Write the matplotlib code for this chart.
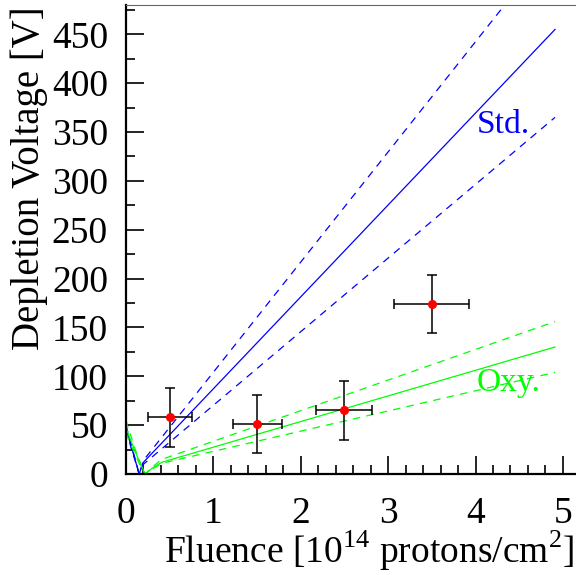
import numpy as np
import matplotlib
matplotlib.use("Agg")
import matplotlib.pyplot as plt
from matplotlib.ticker import MultipleLocator

plt.rcParams['font.family'] = ['Liberation Serif', 'DejaVu Serif']
plt.rcParams['mathtext.fontset'] = 'custom'
plt.rcParams['mathtext.rm'] = 'Liberation Serif'

# measured points
fluence = [0.5, 1.5, 2.5, 3.5]
fluence_err = [0.25, 0.28, 0.32, 0.43]
vdep = [58, 51, 65, 174]
vdep_err = [30, 30, 30, 30]

# standard silicon prediction (central, upper, lower)
fl_std = [0, 0.03, 0.06, 0.10, 0.15, 0.20, 4.91]
v_std = [48, 38, 28, 16, 0, 12, 455]
v_std_hi = [50, 40, 30, 17, 0, 14, 545]
v_std_lo = [46, 36, 26, 15, 0, 10, 365]

# oxygenated silicon prediction
fl_oxy = [0, 0.03, 0.07, 0.11, 0.16, 0.22, 0.30, 0.41, 4.91]
v_oxy = [47, 40, 31, 22, 11, 0, 6, 12, 130]
v_oxy_hi = [55, 46, 35, 24, 12, 0, 7, 15, 156]
v_oxy_lo = [42, 35, 27, 19, 9, 0, 5, 11, 104]

blue, green = (0, 0, 1), (0, 1, 0)

fig = plt.figure(figsize=(5.76, 5.75), dpi=100)
ax = fig.add_axes([126/576, 1 - 474/575, 450/576, 469/575])

ax.plot(fl_std, v_std, color=blue, lw=0.9)
ax.plot(fl_std, v_std_hi, color=blue, lw=0.9, ls=(0, (6, 5)))
ax.plot(fl_std, v_std_lo, color=blue, lw=0.9, ls=(0, (6, 5)))
ax.plot(fl_oxy, v_oxy, color=green, lw=0.9)
ax.plot(fl_oxy, v_oxy_hi, color=green, lw=0.9, ls=(0, (6, 5)))
ax.plot(fl_oxy, v_oxy_lo, color=green, lw=0.9, ls=(0, (6, 5)))

ax.errorbar(fluence, vdep, xerr=fluence_err, yerr=vdep_err, fmt='o',
            color='red', ms=5.5, ecolor='black', elinewidth=1.1,
            capsize=3.5, capthick=1.1, zorder=5)

ax.text(4.01, 349, "Std.", color=blue, fontsize=24)
ax.text(4.01, 85, "Oxy.", color=green, fontsize=24)

ax.set_xlim(0, 5.15)
ax.set_ylim(0, 480)
ax.xaxis.set_major_locator(MultipleLocator(1))
ax.xaxis.set_minor_locator(MultipleLocator(0.2))
ax.yaxis.set_major_locator(MultipleLocator(50))
ax.yaxis.set_minor_locator(MultipleLocator(25))
ax.tick_params(which='both', direction='in', width=1.2, labelsize=27)
ax.tick_params(which='major', length=13)
ax.tick_params(which='minor', length=6.5)
ax.tick_params(axis='x', pad=16)
ax.tick_params(axis='y', pad=13)
for s in ['left', 'bottom']:
    ax.spines[s].set_linewidth(1.6)
ax.spines['top'].set_linewidth(0.8)
ax.spines['top'].set_color('0.4')
ax.spines['right'].set_visible(False)

fig.text(574/576, 1 - 563/575, r"Fluence [10$^{\mathrm{14}}$ protons/cm$^{\mathrm{2}}$]",
         ha='right', va='baseline', fontsize=27)
fig.text(48/576, 1 - 6/575, "Depletion Voltage [V]", rotation=90,
         ha='right', va='top', fontsize=28)

fig.savefig("out.png", dpi=100)
